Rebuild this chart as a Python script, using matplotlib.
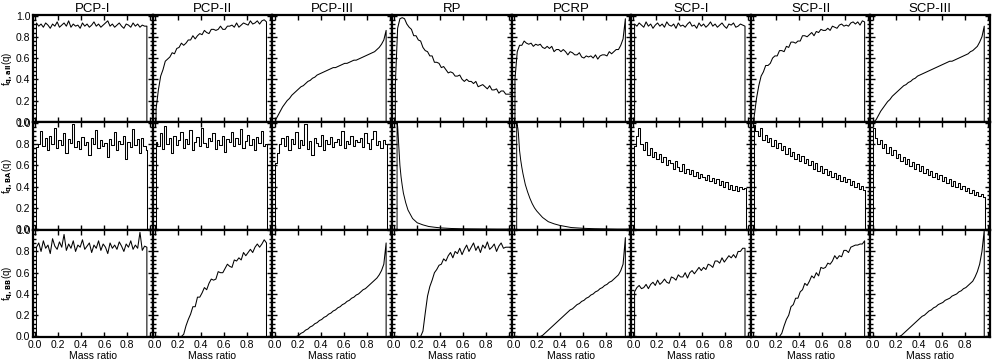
import numpy as np
from matplotlib import pyplot as plt
from matplotlib.ticker import MultipleLocator

plt.rcParams['font.family'] = ['Liberation Sans', 'DejaVu Sans']

# column titles and row labels
models = ['PCP-I', 'PCP-II', 'PCP-III', 'RP', 'PCRP', 'SCP-I', 'SCP-II', 'SCP-III']
row_labels = [r'f$_{\mathbf{q,all}}$(q)', r'f$_{\mathbf{q,BA}}$(q)', r'f$_{\mathbf{q,BB}}$(q)']
x_ticks = [0.0, 0.2, 0.4, 0.6, 0.8, 1.0]
x_ticklabels = ['0.0', '0.2', '0.4', '0.6', '0.8', '']
y_ticks = [0.0, 0.2, 0.4, 0.6, 0.8, 1.0]

# mass ratio bin centres (0.01 ... 0.97)
q_bins = np.round(np.arange(0.01, 0.98, 0.02), 2)
# finer bins for the sharply peaked distributions
q_spike = [0.025, 0.03, 0.035, 0.04, 0.05, 0.06, 0.07, 0.08, 0.10, 0.12, 0.14, 0.16, 0.18,
           0.20, 0.25, 0.30, 0.35, 0.40, 0.50, 0.60, 0.70, 0.80, 0.90, 0.97]

# row 1: all binaries
all_pcp1 = [0.93, 0.90, 0.92, 0.89, 0.93, 0.91, 0.88, 0.92, 0.90, 0.94, 0.89, 0.91, 0.93, 0.90, 0.95, 0.89,
            0.92, 0.90, 0.91, 0.88, 0.93, 0.90, 0.92, 0.89, 0.91, 0.94, 0.90, 0.92, 0.89, 0.91, 0.93, 0.95,
            0.90, 0.92, 0.89, 0.91, 0.93, 0.90, 0.88, 0.92, 0.91, 0.89, 0.93, 0.90, 0.92, 0.89, 0.91, 0.90, 0.90]
all_pcp2 = [0.12, 0.30, 0.43, 0.49, 0.57, 0.59, 0.61, 0.65, 0.64, 0.69, 0.70, 0.74, 0.72, 0.74, 0.77, 0.77,
            0.81, 0.78, 0.81, 0.83, 0.82, 0.86, 0.84, 0.83, 0.87, 0.87, 0.86, 0.87, 0.90, 0.87, 0.87, 0.90,
            0.90, 0.91, 0.89, 0.93, 0.89, 0.91, 0.93, 0.92, 0.91, 0.95, 0.92, 0.93, 0.95, 0.92, 0.95, 0.96, 0.94]
all_pcp3 = [0.02, 0.06, 0.10, 0.14, 0.17, 0.20, 0.22, 0.25, 0.27, 0.29, 0.31, 0.33, 0.34, 0.36, 0.38, 0.39,
            0.41, 0.42, 0.44, 0.45, 0.46, 0.47, 0.48, 0.49, 0.50, 0.51, 0.51, 0.52, 0.53, 0.54, 0.55, 0.55,
            0.56, 0.57, 0.58, 0.58, 0.59, 0.60, 0.61, 0.62, 0.63, 0.64, 0.65, 0.66, 0.68, 0.70, 0.73, 0.77, 0.86]
all_rp = [0.35, 0.88, 0.97, 0.98, 0.97, 0.92, 0.89, 0.87, 0.81, 0.81, 0.77, 0.76, 0.70, 0.67, 0.66, 0.62,
          0.62, 0.56, 0.56, 0.55, 0.51, 0.52, 0.49, 0.46, 0.47, 0.46, 0.43, 0.43, 0.44, 0.40, 0.38, 0.40,
          0.38, 0.38, 0.36, 0.38, 0.33, 0.34, 0.35, 0.33, 0.31, 0.34, 0.30, 0.30, 0.31, 0.27, 0.29, 0.29, 0.26]
all_pcrp = [0.40, 0.66, 0.72, 0.72, 0.76, 0.74, 0.73, 0.74, 0.71, 0.73, 0.72, 0.73, 0.70, 0.69, 0.71, 0.69,
            0.71, 0.66, 0.68, 0.68, 0.66, 0.68, 0.66, 0.63, 0.66, 0.65, 0.63, 0.63, 0.65, 0.61, 0.60, 0.62,
            0.61, 0.62, 0.60, 0.63, 0.59, 0.62, 0.63, 0.63, 0.62, 0.66, 0.64, 0.66, 0.68, 0.68, 0.72, 0.78, 0.97]
all_scp1 = [0.92, 0.90, 0.93, 0.91, 0.89, 0.94, 0.90, 0.92, 0.88, 0.91, 0.93, 0.90, 0.92, 0.89, 0.94, 0.91,
            0.90, 0.92, 0.88, 0.93, 0.90, 0.91, 0.89, 0.92, 0.94, 0.90, 0.91, 0.88, 0.93, 0.90, 0.92, 0.89,
            0.91, 0.94, 0.90, 0.92, 0.89, 0.91, 0.93, 0.90, 0.88, 0.92, 0.91, 0.93, 0.89, 0.90, 0.92, 0.91, 0.90]
all_scp2 = [0.05, 0.22, 0.34, 0.43, 0.47, 0.53, 0.53, 0.55, 0.60, 0.62, 0.62, 0.67, 0.67, 0.66, 0.71, 0.70,
            0.75, 0.75, 0.74, 0.76, 0.76, 0.81, 0.81, 0.80, 0.82, 0.84, 0.81, 0.85, 0.84, 0.87, 0.86, 0.86,
            0.88, 0.86, 0.90, 0.89, 0.88, 0.91, 0.92, 0.90, 0.91, 0.90, 0.93, 0.94, 0.92, 0.94, 0.91, 0.95, 0.94]
all_scp3 = [0.00, 0.02, 0.06, 0.10, 0.13, 0.16, 0.19, 0.21, 0.24, 0.26, 0.28, 0.30, 0.32, 0.34, 0.35, 0.37,
            0.38, 0.40, 0.41, 0.43, 0.44, 0.45, 0.46, 0.47, 0.48, 0.49, 0.50, 0.51, 0.52, 0.53, 0.54, 0.55,
            0.56, 0.57, 0.57, 0.58, 0.59, 0.60, 0.61, 0.62, 0.63, 0.64, 0.66, 0.67, 0.69, 0.71, 0.75, 0.80, 0.90]

# row 2
ba_pcp1 = [0.77, 0.80, 0.92, 0.78, 0.86, 0.74, 0.88, 0.80, 0.95, 0.76, 0.84, 0.79, 0.90, 0.72, 0.85, 0.81,
           0.99, 0.77, 0.83, 0.75, 0.87, 0.79, 0.82, 0.70, 0.86, 0.80, 0.93, 0.76, 0.84, 0.78, 0.81, 0.68,
           0.85, 0.79, 0.91, 0.74, 0.83, 0.80, 0.88, 0.66, 0.82, 0.77, 0.94, 0.79, 0.85, 0.72, 0.86, 0.78, 0.74]
ba_pcp2 = [0.82, 0.78, 0.90, 0.75, 0.97, 0.80, 0.86, 0.72, 0.88, 0.79, 0.84, 0.91, 0.76, 0.85, 0.80, 0.93,
           0.74, 0.82, 0.87, 0.78, 0.95, 0.81, 0.77, 0.86, 0.83, 0.90, 0.75, 0.84, 0.79, 0.88, 0.73, 0.85,
           0.82, 0.91, 0.78, 0.86, 0.80, 0.94, 0.76, 0.83, 0.89, 0.79, 0.85, 0.74, 0.87, 0.81, 0.92, 0.78, 0.80]
ba_pcp3 = [0.62, 0.72, 0.80, 0.86, 0.78, 0.88, 0.74, 0.85, 0.80, 0.91, 0.76, 0.84, 0.79, 0.99, 0.75, 0.83,
           0.70, 0.86, 0.81, 0.78, 0.89, 0.74, 0.84, 0.80, 0.87, 0.77, 0.82, 0.85, 0.79, 0.92, 0.76, 0.83,
           0.80, 0.88, 0.78, 0.84, 0.82, 0.86, 0.77, 0.90, 0.81, 0.75, 0.85, 0.92, 0.79, 0.83, 0.76, 0.84, 0.80]
ba_rp = [1.00, 0.97, 0.88, 0.78, 0.60, 0.49, 0.41, 0.34, 0.25, 0.18, 0.14, 0.10, 0.08,
         0.06, 0.04, 0.025, 0.018, 0.012, 0.006, 0.003, 0.002, 0.001, 0.0, 0.0]
ba_pcrp = [1.00, 0.98, 0.95, 0.90, 0.74, 0.65, 0.58, 0.52, 0.42, 0.35, 0.29, 0.24, 0.20,
           0.17, 0.11, 0.07, 0.05, 0.035, 0.015, 0.008, 0.004, 0.002, 0.0, 0.0]
ba_scp1 = [0.78, 0.88, 0.95, 0.80, 0.74, 0.82, 0.70, 0.76, 0.68, 0.73, 0.66, 0.71, 0.63, 0.68, 0.60, 0.65,
           0.62, 0.57, 0.64, 0.58, 0.55, 0.61, 0.53, 0.57, 0.52, 0.56, 0.50, 0.54, 0.48, 0.52, 0.49, 0.46,
           0.51, 0.45, 0.48, 0.43, 0.47, 0.42, 0.45, 0.40, 0.44, 0.38, 0.42, 0.37, 0.41, 0.36, 0.40, 0.38, 0.39]
ba_scp2 = [0.98, 0.92, 0.88, 0.95, 0.84, 0.89, 0.82, 0.86, 0.78, 0.84, 0.76, 0.81, 0.74, 0.78, 0.71, 0.76,
           0.69, 0.73, 0.66, 0.71, 0.64, 0.69, 0.62, 0.66, 0.60, 0.64, 0.57, 0.62, 0.55, 0.59, 0.53, 0.57,
           0.51, 0.55, 0.49, 0.53, 0.47, 0.51, 0.45, 0.49, 0.44, 0.47, 0.42, 0.45, 0.40, 0.43, 0.38, 0.41, 0.37]
ba_scp3 = [0.95, 0.86, 0.80, 0.84, 0.76, 0.80, 0.72, 0.77, 0.70, 0.74, 0.67, 0.71, 0.64, 0.68, 0.61, 0.66,
           0.59, 0.63, 0.57, 0.61, 0.55, 0.59, 0.53, 0.57, 0.51, 0.55, 0.49, 0.53, 0.47, 0.51, 0.45, 0.49,
           0.43, 0.47, 0.41, 0.45, 0.40, 0.43, 0.38, 0.41, 0.36, 0.39, 0.34, 0.37, 0.32, 0.35, 0.31, 0.33, 0.30]

# row 3
bb_pcp1 = [0.84, 0.88, 0.80, 0.90, 0.83, 0.86, 0.78, 0.92, 0.85, 0.82, 0.89, 0.84, 0.96, 0.81, 0.87, 0.83,
           0.90, 0.80, 0.86, 0.84, 0.91, 0.82, 0.85, 0.88, 0.79, 0.86, 0.83, 0.90, 0.81, 0.87, 0.84, 0.78,
           0.88, 0.83, 0.86, 0.82, 0.89, 0.85, 0.80, 0.87, 0.84, 0.90, 0.82, 0.86, 0.83, 0.98, 0.81, 0.85, 0.84]
bb_pcp2 = [0, 0, 0, 0, 0, 0, 0, 0, 0, 0, 0, 0, 0.02, 0.10, 0.16, 0.21,
           0.28, 0.28, 0.37, 0.37, 0.41, 0.46, 0.44, 0.50, 0.54, 0.53, 0.54, 0.61, 0.60, 0.60, 0.64, 0.68,
           0.66, 0.65, 0.72, 0.71, 0.74, 0.72, 0.79, 0.76, 0.79, 0.82, 0.79, 0.84, 0.87, 0.84, 0.87, 0.91, 0.88]
bb_pcp3 = [0, 0, 0, 0, 0, 0, 0, 0, 0, 0, 0.01, 0.03, 0.04, 0.06, 0.07, 0.09,
           0.10, 0.12, 0.13, 0.15, 0.16, 0.18, 0.19, 0.21, 0.22, 0.24, 0.25, 0.27, 0.28, 0.30, 0.31, 0.33,
           0.34, 0.36, 0.37, 0.39, 0.40, 0.42, 0.44, 0.45, 0.47, 0.49, 0.51, 0.53, 0.55, 0.58, 0.62, 0.68, 0.88]
bb_rp = [0, 0, 0, 0, 0, 0, 0, 0, 0, 0, 0, 0, 0.05, 0.22, 0.38, 0.47,
         0.53, 0.60, 0.63, 0.67, 0.68, 0.73, 0.71, 0.76, 0.79, 0.74, 0.80, 0.78, 0.83, 0.77, 0.82, 0.86,
         0.80, 0.84, 0.88, 0.81, 0.85, 0.79, 0.86, 0.83, 0.89, 0.82, 0.84, 0.87, 0.80, 0.85, 0.88, 0.83, 0.84]
bb_pcrp = [0, 0, 0, 0, 0, 0, 0, 0, 0, 0, 0, 0, 0.01, 0.03, 0.05, 0.07,
           0.09, 0.11, 0.13, 0.15, 0.17, 0.19, 0.21, 0.23, 0.25, 0.26, 0.28, 0.30, 0.31, 0.33, 0.34, 0.36,
           0.37, 0.39, 0.40, 0.42, 0.43, 0.45, 0.46, 0.48, 0.49, 0.51, 0.52, 0.54, 0.56, 0.58, 0.62, 0.68, 0.93]
bb_scp1 = [0.42, 0.46, 0.48, 0.45, 0.46, 0.49, 0.45, 0.49, 0.51, 0.48, 0.53, 0.49, 0.51, 0.54, 0.51, 0.50,
           0.56, 0.55, 0.53, 0.58, 0.56, 0.56, 0.60, 0.55, 0.60, 0.62, 0.59, 0.62, 0.65, 0.62, 0.65, 0.63,
           0.68, 0.67, 0.65, 0.71, 0.71, 0.69, 0.74, 0.70, 0.73, 0.76, 0.74, 0.77, 0.74, 0.80, 0.80, 0.83, 0.83]
bb_scp2 = [0, 0, 0, 0, 0, 0, 0, 0, 0, 0, 0, 0, 0.03, 0.10, 0.16, 0.20,
           0.28, 0.30, 0.36, 0.36, 0.42, 0.44, 0.50, 0.48, 0.52, 0.57, 0.55, 0.60, 0.57, 0.65, 0.64, 0.65,
           0.69, 0.68, 0.71, 0.76, 0.73, 0.76, 0.75, 0.81, 0.81, 0.79, 0.84, 0.85, 0.86, 0.86, 0.87, 0.87, 0.90]
bb_scp3 = [0, 0, 0, 0, 0, 0, 0, 0, 0, 0, 0, 0, 0.01, 0.03, 0.05, 0.07,
           0.09, 0.11, 0.13, 0.15, 0.17, 0.19, 0.20, 0.22, 0.24, 0.25, 0.27, 0.28, 0.30, 0.31, 0.32, 0.34,
           0.35, 0.36, 0.38, 0.39, 0.40, 0.42, 0.43, 0.45, 0.46, 0.48, 0.50, 0.52, 0.56, 0.61, 0.68, 0.80, 1.00]

# (values, open_end) per panel; open_end curves run on to the right edge
rows = [
    [(all_pcp1, False), (all_pcp2, False), (all_pcp3, False), (all_rp, True),
     (all_pcrp, False), (all_scp1, False), (all_scp2, False), (all_scp3, False)],
    [(ba_pcp1, False), (ba_pcp2, False), (ba_pcp3, False), (ba_rp, True),
     (ba_pcrp, True), (ba_scp1, False), (ba_scp2, False), (ba_scp3, False)],
    [(bb_pcp1, False), (bb_pcp2, False), (bb_pcp3, False), (bb_rp, True),
     (bb_pcrp, False), (bb_scp1, False), (bb_scp2, False), (bb_scp3, False)],
]


# curve with a vertical rise and (optionally) a drop back to zero
def draw_curve(ax, f, open_end, steps):
    f = np.asarray(f, dtype=float)
    if len(f) == len(q_spike):
        q = np.asarray(q_spike)
        x = np.concatenate([[q[0]], q, [1.02]])
        y = np.concatenate([[0], f, [f[-1]]])
        ax.plot(x, y, color='k', lw=0.7)
        return
    start = q_bins[0] - 0.01 if steps else q_bins[0]
    x = np.concatenate([[start], q_bins])
    y = np.concatenate([[0], f])
    if open_end:
        x = np.append(x, 1.03)
        y = np.append(y, f[-1])
    else:
        x = np.append(x, q_bins[-1] + 0.01 if steps else q_bins[-1])
        y = np.append(y, 0)
    ax.plot(x, y, drawstyle='steps-mid' if steps else 'default', color='k', lw=0.75)


fig, axes = plt.subplots(3, 8, figsize=(9.93, 3.62), dpi=100, sharex=True, sharey=True)
fig.subplots_adjust(left=33 / 993, right=990 / 993, top=1 - 15 / 362, bottom=1 - 337 / 362,
                    wspace=0, hspace=0)

for r in range(3):
    for c in range(8):
        ax = axes[r, c]
        f, open_end = rows[r][c]
        # middle row looks like a coarse histogram, the others like dense noisy lines
        draw_curve(ax, f, open_end, steps=(r == 1))
        ax.set_xlim(-0.02, 1.02)
        ax.set_ylim(-0.005, 1.005)
        ax.set_xticks(x_ticks)
        ax.set_yticks(y_ticks)
        ax.yaxis.set_minor_locator(MultipleLocator(0.04))
        ax.tick_params(which='both', direction='in', top=True, right=True, width=1.0,
                       labelsize=7.5, pad=2)
        ax.tick_params(which='major', length=3.5)
        ax.tick_params(which='minor', length=2)
        for s in ax.spines.values():
            s.set_linewidth(1.6)
        if r == 0:
            ax.set_title(models[c], fontsize=9.5, pad=2)
        if c == 0:
            ax.set_yticklabels([f'{v:.1f}' for v in y_ticks])
            ax.set_ylabel(row_labels[r], fontsize=7)
            ax.yaxis.set_label_coords(-0.15, 0.5)
        if r == 2:
            ax.set_xticklabels(x_ticklabels)
            ax.set_xlabel('Mass ratio', fontsize=7.5, labelpad=1)

fig.savefig('out.png', dpi=100)
